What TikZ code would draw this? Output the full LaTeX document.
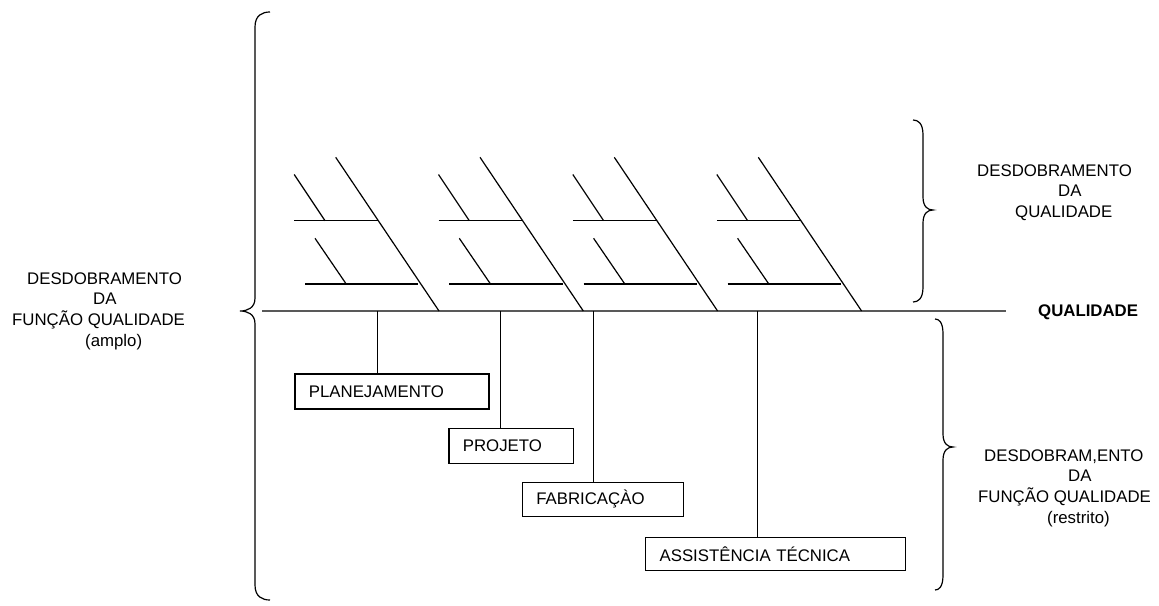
\documentclass[tikz,border=0pt]{standalone}
\usepackage{fontspec}
\setmainfont{Liberation Sans}
\usetikzlibrary{calc}
\newcommand\CurlyBrace[6]{% x0, xv, xt, ytop, ytip, ybot
  \draw[bone] (#1,#4) .. controls (0.5*#1+0.5*#2,#4) and (#2,#4+3) .. (#2,#4+15)
    -- (#2,#5-13) .. controls (#2,#5-3) and (0.5*#2+0.5*#3,#5) .. (#3,#5)
    .. controls (0.5*#2+0.5*#3,#5) and (#2,#5+3) .. (#2,#5+13)
    -- (#2,#6-15) .. controls (#2,#6-3) and (0.5*#1+0.5*#2,#6) .. (#1,#6);}
\begin{document}
\begin{tikzpicture}[x=1pt,y=-1pt,
  bone/.style={line width=1.2pt, black},
  spineline/.style={line width=2pt, color=black!65},
  labelbox/.style={draw, line width=1.2pt, anchor=north west, inner xsep=14pt, inner ysep=0pt, align=left},
  blocktext/.style={anchor=north west, inner sep=0pt, align=left},
  every node/.style={font=\fontsize{16.8}{20.7}\selectfont}]
\useasboundingbox (0,0) rectangle (1159,605);
\fill[white] (0,0) rectangle (1159,605);

% braces
\CurlyBrace{270}{255}{240}{12}{311}{600}
\CurlyBrace{913}{923}{933}{120}{210}{302}
\CurlyBrace{935}{943}{953}{319}{447}{590}

% spine
\coordinate (spineL) at (262,311);
\coordinate (spineR) at (1006,311);
\draw[spineline] (spineL) -- (spineR);

% fishbones
\foreach \t in {335.7,480,614.3,758.3} {
  \draw[bone] (\t,157.3) -- (\t+103.3,311);
  \draw[bone] (\t-41.5,220.7) -- (\t+42.3,220.7);
  \draw[bone] (\t-41.5,174.5) -- (\t-10.7,220.7);
  \draw[bone] (\t-30.7,284) -- (\t+82.7,284);
  \draw[bone] (\t-20.7,238.3) -- (\t+10.5,284);
}

% boxes
\node[labelbox, text width=166pt, minimum height=35pt] (plan) at (294.3,373.3) {PLANEJAMENTO};
\node[labelbox, text width=96.4pt, minimum height=35pt] (proj) at (448.3,427.7) {PROJETO};
\node[labelbox, text width=133pt, minimum height=34pt] (fab) at (521.7,481.7) {FABRICAÇÀO};
\node[labelbox, text width=232pt, minimum height=33.5pt] (assist) at (645,536.7) {ASSISTÊNCIA TÉCNICA};

\coordinate (s1) at (377.3,311);
\coordinate (s2) at (500.7,311);
\coordinate (s3) at (593.3,311);
\coordinate (s4) at (757.7,311);
\draw[bone] (s1) -- (s1 |- plan.north);
\draw[bone] (s2) -- (s2 |- proj.north);
\draw[bone] (s3) -- (s3 |- fab.north);
\draw[bone] (s4) -- (s4 |- assist.north);

% texts
\node[blocktext] (left) at (12,272.2) {\hspace*{15pt}DESDOBRAMENTO\\\hspace*{81pt}DA\\FUNÇÃO QUALIDADE\\\hspace*{73pt}(amplo)};
\node[blocktext] (uright) at (977,164.2) {DESDOBRAMENTO\\\hspace*{81pt}DA\\\hspace*{38pt}QUALIDADE};
\node[blocktext] (lright) at (978,449.2) {\hspace*{6pt}DESDOBRAM,ENTO\\\hspace*{90pt}DA\\FUNÇÃO QUALIDADE\\\hspace*{69pt}(restrito)};
\node[anchor=west, inner sep=0pt, font=\fontsize{16.8}{20.7}\selectfont\bfseries] (qual) at (1038,312) {QUALIDADE};
\end{tikzpicture}
\end{document}
